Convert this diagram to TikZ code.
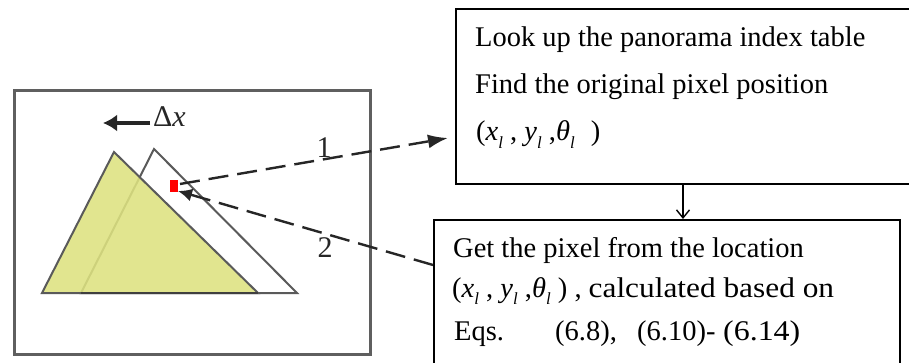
\documentclass[tikz,border=0pt]{standalone}
\usepackage{fontspec}
\setmainfont{Liberation Serif}
\usetikzlibrary{arrows.meta}
\definecolor{trifill}{RGB}{221,226,128}
\definecolor{framegray}{RGB}{95,95,95}
\definecolor{trigray}{RGB}{90,90,90}
\newcommand{\lsub}{\raisebox{-0.28em}{\fontsize{17}{17}\selectfont\itshape l}}
\newcommand{\gp}[1]{\hspace{#1pt}}
% top-box version of (x_l , y_l , theta_l )
\newcommand{\xytA}{(\textit{x}\lsub\ ,\ \textit{y}\lsub\ ,\textit{θ}\lsub\gp{16})}
% bottom-box version
\newcommand{\xytB}{(\textit{x}\lsub\ ,\ \textit{y}\lsub\ ,\textit{θ}\lsub\ )}
\tikzset{
  bigtext/.style={font=\fontsize{28.5}{34}\selectfont, inner sep=0pt},
  labtext/.style={font=\fontsize{30}{34}\selectfont, inner sep=0pt, text=black!85},
  boxframe/.style={draw=black, line width=2.2pt, inner sep=0pt},
  dashline/.style={draw=black!85, line width=2.4pt, dash pattern=on 20pt off 9pt},
  tri/.style={draw=trigray, line width=2pt, line join=miter},
}
\begin{document}
\begin{tikzpicture}[x=1pt,y=-1pt]
\clip (0,0) rectangle (909,363);
\fill[white] (0,0) rectangle (909,363);
% left frame
\node[draw=framegray, line width=3pt, minimum width=356pt, minimum height=264pt, anchor=north west, inner sep=0pt] (frame) at (13,89) {};
% white triangle
\draw[tri] (81,293) -- (154,149) -- (297,293) -- cycle;
% yellow triangle
\fill[trifill, opacity=0.88] (42,293) -- (114,152) -- (258,293) -- cycle;
\draw[tri] (42,293) -- (114,152) -- (258,293) -- cycle;
\draw[trigray!70!black, line width=2.2pt] (81,293) -- (258,293);
% red pixel
\node[fill=red, minimum width=8pt, minimum height=12pt, inner sep=0pt] (px) at (174,186) {};
% delta x
\node[labtext, anchor=base west] (dx) at (153,127) {Δ\textit{x}};
\coordinate (dxtip) at (103,123);
\draw[black!85, line width=3.6pt, -{Latex[length=14pt,width=17pt]}] (dx.west |- dxtip) ++(-3,0) -- (dxtip);
% boxes
\node[boxframe, minimum width=490pt, minimum height=175pt, anchor=north west] (lookup) at (455,8) {};
\node[boxframe, line width=1.9pt, minimum width=466pt, minimum height=180pt, anchor=north west] (get) at (433,219) {};
% top box text
\node[bigtext, anchor=base west] (t1) at (475,47) {Look up the panorama index table};
\node[bigtext, anchor=base west] (t2) at (475,94) {Find the original pixel position};
\node[bigtext, anchor=base west] (t3) at (476,141) {\xytA};
% bottom box text
\node[bigtext, anchor=base west] (b1) at (453,257) {Get the pixel from the location};
\node[bigtext, anchor=base west] (b2) at (452,297) {\xytB\ ,\gp{7}\scalebox{1.1}[1]{calculated based on}};
\node[bigtext, anchor=base west] (b3) at (454,340) {\rlap{Eqs.}\gp{101}\rlap{(6.8),}\gp{82}\rlap{(6.10)-}\gp{86}\scalebox{1.12}[1]{(6.14)}};
% vertical arrow
\coordinate (va) at (683,0);
\draw[line width=1.4pt, -{Straight Barb[length=8pt,width=13pt,line width=1.4pt]}] (lookup.south -| va) -- (get.north -| va);
% dashed connectors
\coordinate (s1) at (180,184);
\coordinate (e1) at (448,138);
\draw[dashline, -{Latex[length=20pt,width=14pt]}] (s1) -- (e1);
\coordinate (s2) at (get.west |- 0,265);
\coordinate (e2) at (178,191);
\draw[dashline, -{Latex[length=14pt,width=13pt]}] (s2) -- (e2);
% labels
\node[labtext, anchor=base] (l1) at (324,158) {1};
\node[labtext, anchor=base] (l2) at (325,257) {2};
\end{tikzpicture}
\end{document}
